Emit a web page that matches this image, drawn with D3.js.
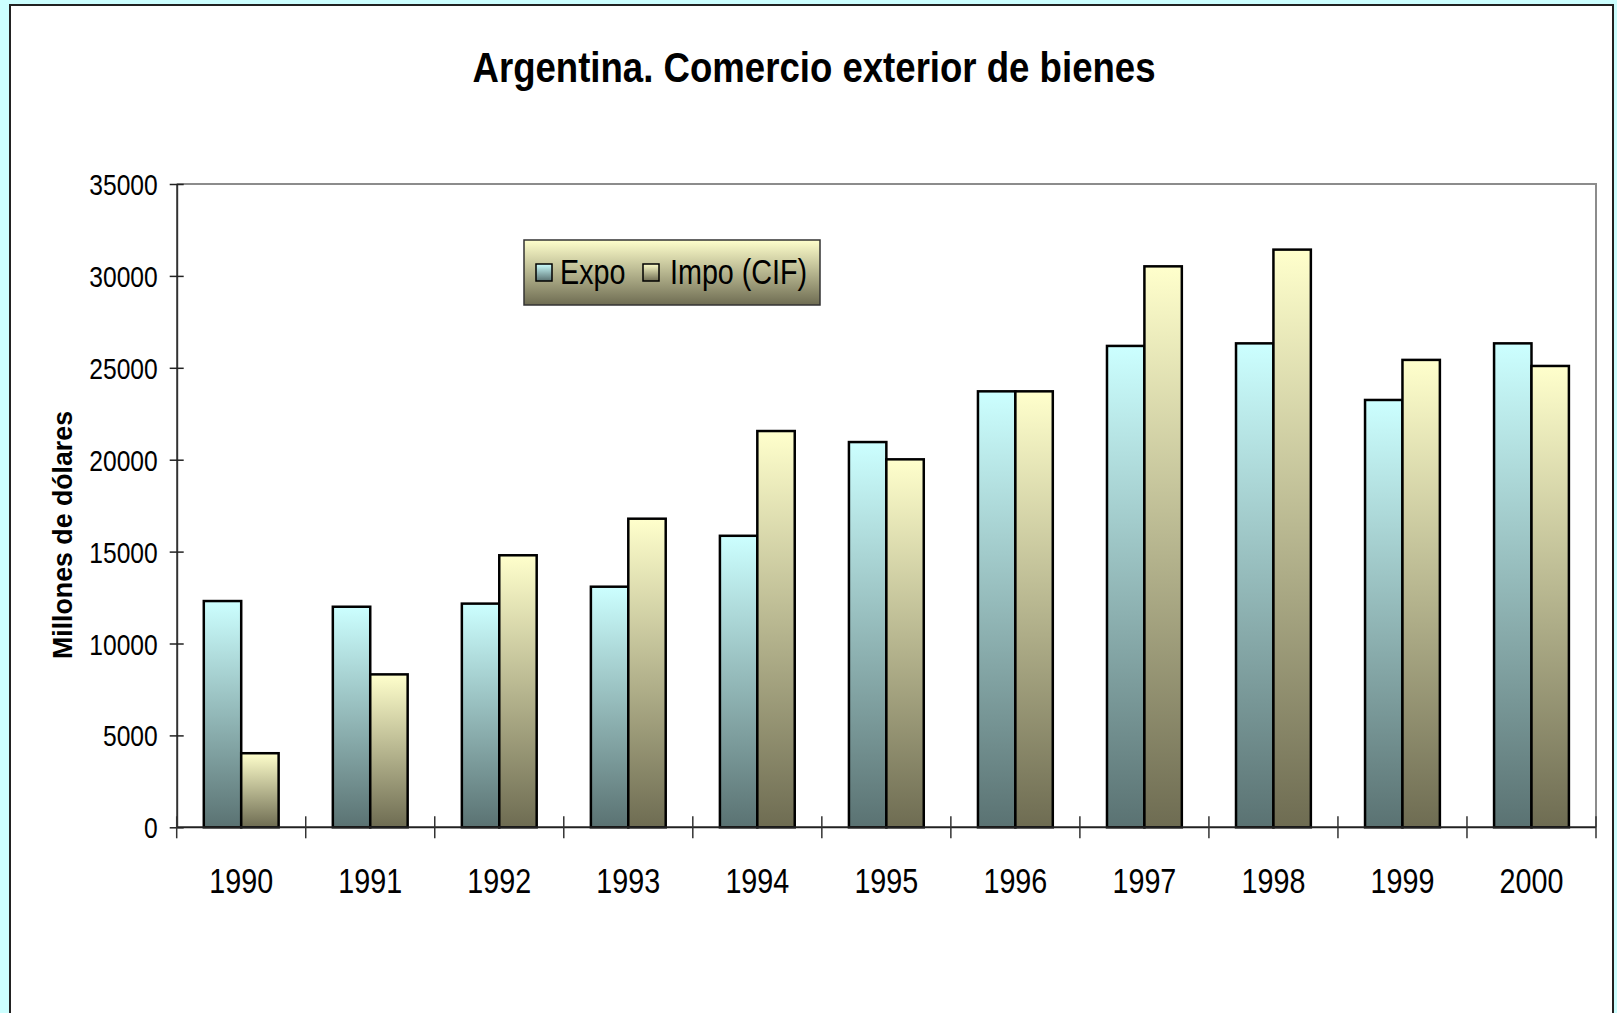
<!DOCTYPE html>
<html>
<head>
<meta charset="utf-8">
<script src="https://cdn.jsdelivr.net/npm/d3@7"></script>
<style>
  html, body { margin: 0; padding: 0; background: #ccffff; }
  svg { display: block; }
  text { font-family: 'Liberation Sans Narrow', 'Arial Narrow', 'Liberation Sans', sans-serif; }
</style>
</head>
<body>
<div id="chart"></div>
<script>
/* global d3 */

let years = ['1990', '1991', '1992', '1993', '1994', '1995', '1996', '1997', '1998', '1999', '2000']
let expo = [12310, 12000, 12170, 13090, 15860, 20960, 23720, 26190, 26330, 23250, 26330]
let impo = [4030, 8320, 14800, 16790, 21560, 20020, 23720, 30520, 31430, 25430, 25100]
let seriesNames = ['Expo', 'Impo (CIF)']
let yTicks = [0, 5000, 10000, 15000, 20000, 25000, 30000, 35000]

let W = 1617
let H = 1013
let plot = {x0: 176.7, x1: 1596, y0: 184, y1: 827.3}

// no Arial Narrow here: squeeze regular glyphs to a narrow width
function narrow (sel, f) {
  sel.each(function () {
    let len = this.getComputedTextLength()
    d3.select(this)
      .attr('textLength', len * f)
      .attr('lengthAdjust', 'spacingAndGlyphs')
  })
}

let svg = d3.select('#chart').append('svg')
  .attr('width', W)
  .attr('height', H)

let defs = svg.append('defs')
function addGradient (id, top, bottom) {
  let g = defs.append('linearGradient')
    .attr('id', id)
    .attr('x1', 0).attr('y1', 0)
    .attr('x2', 0).attr('y2', 1)
  g.append('stop').attr('offset', '0%').attr('stop-color', top)
  g.append('stop').attr('offset', '100%').attr('stop-color', bottom)
}
addGradient('gExpo', '#ccffff', '#5a7272')
addGradient('gImpo', '#ffffcc', '#6e6c52')
addGradient('gLegend', '#ffffcc', '#6e6c52')

// background panel
svg.append('rect')
  .attr('x', 0).attr('y', 0)
  .attr('width', W).attr('height', H)
  .attr('fill', '#ccffff')
svg.append('rect')
  .attr('x', 10).attr('y', 5)
  .attr('width', 1603).attr('height', H + 10)
  .attr('fill', '#ffffff')
  .attr('stroke', '#222222')
  .attr('stroke-width', 2)

// title
svg.append('text')
  .text('Argentina. Comercio exterior de bienes')
  .attr('x', 814)
  .attr('y', 82)
  .attr('text-anchor', 'middle')
  .attr('textLength', 683)
  .attr('lengthAdjust', 'spacingAndGlyphs')
  .style('font-size', '42px')
  .style('font-weight', 'bold')
  .attr('fill', '#000')

let x0 = d3.scaleBand()
  .domain(years)
  .range([plot.x0, plot.x1])
  .paddingInner(0.42)
  .paddingOuter(0.21)
let x1 = d3.scaleBand()
  .domain(seriesNames)
  .range([0, x0.bandwidth()])
let y = d3.scaleLinear()
  .domain([0, 35000])
  .range([plot.y1, plot.y0])

// plot frame (top and right, gray)
svg.append('path')
  .attr('d', 'M' + plot.x0 + ',' + plot.y0 + 'H' + plot.x1 + 'V' + plot.y1)
  .attr('fill', 'none')
  .attr('stroke', '#8c8c8c')
  .attr('stroke-width', 2)

// bars
let rows = years.map((yr, i) => ({year: yr, vals: [expo[i], impo[i]]}))
let groups = svg.append('g').selectAll('g')
  .data(rows)
  .join('g')
  .attr('transform', d => 'translate(' + x0(d.year) + ',0)')
groups.selectAll('rect')
  .data(d => d.vals.map((v, k) => ({name: seriesNames[k], v: v, k: k})))
  .join('rect')
  .attr('x', d => x1(d.name))
  .attr('y', d => y(d.v))
  .attr('width', x1.bandwidth())
  .attr('height', d => y(0) - y(d.v))
  .attr('fill', d => d.k === 0 ? 'url(#gExpo)' : 'url(#gImpo)')
  .attr('stroke', '#000')
  .attr('stroke-width', 2.5)

// y axis
let yAxis = svg.append('g')
  .attr('transform', 'translate(' + plot.x0 + ',0)')
  .call(d3.axisLeft(y).tickValues(yTicks).tickFormat(d3.format('d')).tickSizeOuter(0))
yAxis.select('.domain').attr('stroke', '#333').attr('stroke-width', 2)
yAxis.selectAll('.tick line').attr('x1', 7).attr('x2', -7).attr('stroke', '#222').attr('stroke-width', 1.5)
yAxis.selectAll('.tick text')
  .attr('x', -19)
  .attr('dy', '0.35em')
  .style('font-size', '30px')
  .attr('fill', '#000')
  .call(narrow, 0.82)

// x axis
svg.append('line')
  .attr('x1', plot.x0).attr('x2', plot.x1)
  .attr('y1', y(0)).attr('y2', y(0))
  .attr('stroke', '#222')
  .attr('stroke-width', 2)
let bounds = d3.range(years.length + 1).map(i => plot.x0 + i * x0.step())
svg.append('g').selectAll('line')
  .data(bounds)
  .join('line')
  .attr('x1', d => d).attr('x2', d => d)
  .attr('y1', y(0) - 11).attr('y2', y(0) + 11)
  .attr('stroke', '#333')
  .attr('stroke-width', 1.5)
svg.append('g').selectAll('text')
  .data(years)
  .join('text')
  .text(d => d)
  .attr('x', d => x0(d) + x0.bandwidth() / 2)
  .attr('y', 893)
  .attr('text-anchor', 'middle')
  .style('font-size', '35px')
  .attr('fill', '#000')
  .call(narrow, 0.82)

// y label
svg.append('text')
  .text('Millones de dólares')
  .attr('transform', 'translate(72,535) rotate(-90)')
  .attr('text-anchor', 'middle')
  .attr('textLength', 248)
  .attr('lengthAdjust', 'spacingAndGlyphs')
  .style('font-size', '28px')
  .style('font-weight', 'bold')
  .attr('fill', '#000')

// legend
let lg = svg.append('g').attr('transform', 'translate(524,240)')
lg.append('rect')
  .attr('width', 296).attr('height', 65)
  .attr('fill', 'url(#gLegend)')
  .attr('stroke', '#333')
  .attr('stroke-width', 1.5)
let legendItems = [
  {name: seriesNames[0], fill: 'url(#gExpo)', sx: 12, tx: 36},
  {name: seriesNames[1], fill: 'url(#gImpo)', sx: 119, tx: 146}
]
legendItems.forEach(function (it) {
  lg.append('rect')
    .attr('x', it.sx).attr('y', 24)
    .attr('width', 16).attr('height', 17)
    .attr('fill', it.fill)
    .attr('stroke', '#000')
    .attr('stroke-width', 1.5)
  lg.append('text')
    .text(it.name)
    .attr('x', it.tx)
    .attr('y', 44)
    .style('font-size', '35px')
    .attr('fill', '#000')
    .call(narrow, 0.82)
})
</script>
</body>
</html>
